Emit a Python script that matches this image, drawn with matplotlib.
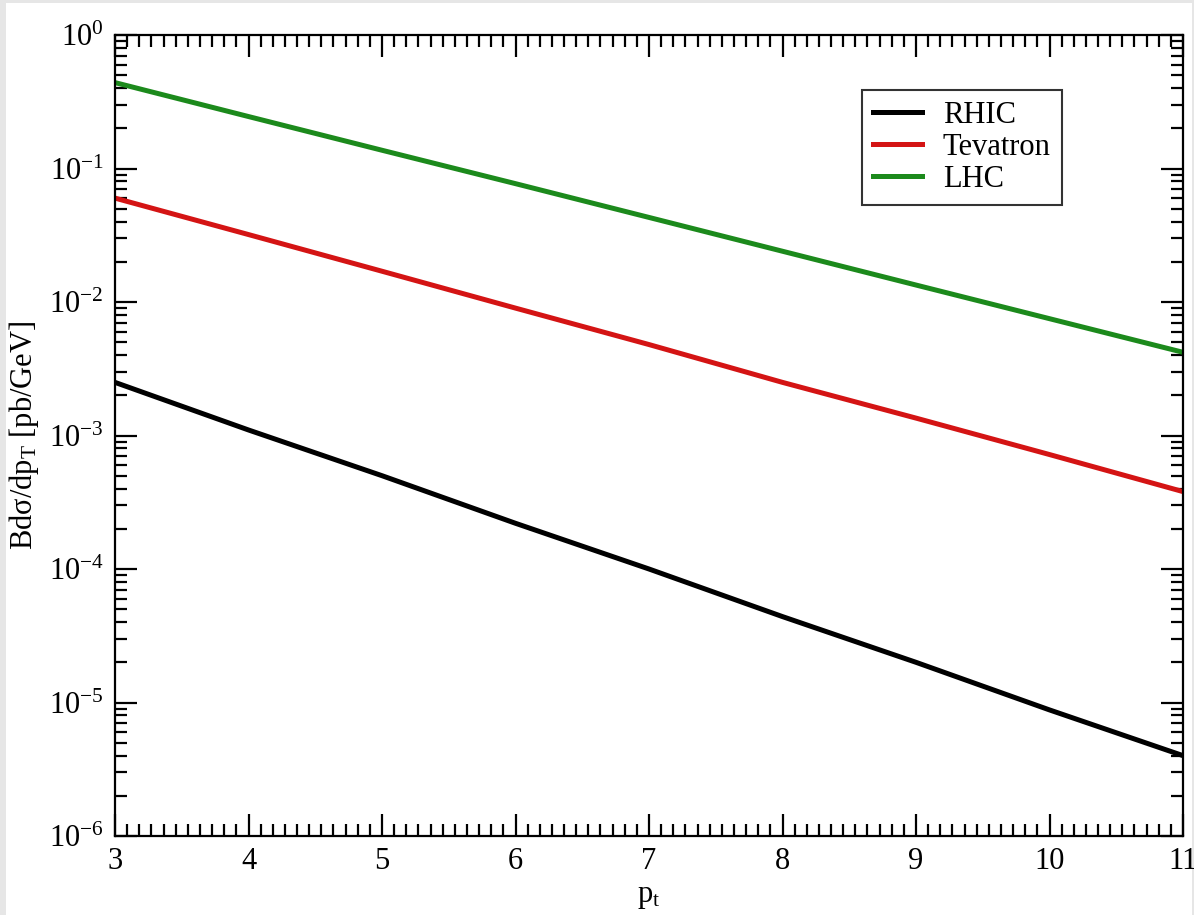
import matplotlib
matplotlib.use("Agg")
import matplotlib.pyplot as plt
import numpy as np
from matplotlib.ticker import LogLocator, AutoMinorLocator, NullFormatter
from matplotlib.patches import Rectangle

plt.rcParams['font.family'] = ['Liberation Serif', 'DejaVu Serif']
plt.rcParams['mathtext.fontset'] = 'custom'
plt.rcParams['mathtext.rm'] = 'Liberation Serif'
plt.rcParams['mathtext.it'] = 'Liberation Serif:italic'
plt.rcParams['axes.unicode_minus'] = False

# values
pt = [3, 4, 5, 6, 7, 8, 9, 10, 11]
rhic = [2.5e-3, 1.1e-3, 5.0e-4, 2.2e-4, 1.0e-4, 4.4e-5, 2.0e-5, 8.8e-6, 4.0e-6]
tevatron = [0.060, 0.032, 0.017, 0.0090, 0.0048, 0.0025, 0.00135, 0.00072, 0.00038]
lhc = [0.44, 0.245, 0.137, 0.077, 0.043, 0.024, 0.0134, 0.0075, 0.0042]

fig = plt.figure(figsize=(11.94, 9.15), dpi=100)
fig.patch.set_facecolor('#e6e6e6')
fig.patches.append(Rectangle((6/1194, 0), 1 - 8/1194, 1 - 3/915,
                             transform=fig.transFigure, facecolor='white',
                             edgecolor='none', zorder=-10))

ax = fig.add_axes([115/1194, 1 - 836/915, 1068/1194, 801/915])
ax.set_facecolor('white')

ax.plot(pt, rhic, color='black', lw=3.6, label='RHIC')
ax.plot(pt, tevatron, color='#d41414', lw=3.6, label='Tevatron')
ax.plot(pt, lhc, color='#1c8a1c', lw=3.6, label='LHC')

ax.set_yscale('log')
ax.set_xlim(3, 11)
ax.set_ylim(1e-6, 1)
ax.yaxis.set_major_locator(LogLocator(base=10, numticks=20))
ax.yaxis.set_minor_locator(LogLocator(base=10, subs=np.arange(2, 10), numticks=20))
ax.yaxis.set_minor_formatter(NullFormatter())
ax.xaxis.set_minor_locator(AutoMinorLocator(11))

ax.tick_params(which='both', direction='in', top=True, right=True,
               width=1.6, labelsize=22, colors='black')
ax.tick_params(which='major', length=16)
ax.tick_params(axis='x', which='major', pad=8)
ax.tick_params(axis='y', which='major', pad=8)
ax.tick_params(which='minor', length=8.5)
for s in ax.spines.values():
    s.set_linewidth(1.6)

ax.set_xlabel(r'p$_\mathrm{t}$', fontsize=22, labelpad=4)
ax.set_ylabel(r'Bdσ/dp$_\mathrm{T}$ [pb/GeV]', fontsize=22, labelpad=6)

leg = ax.legend(loc='upper left', bbox_to_anchor=(0.6994, 0.931),
                borderaxespad=0, fontsize=22, fancybox=False, frameon=True,
                edgecolor='black', handlelength=1.6, handletextpad=0.7,
                borderpad=0.35, labelspacing=0.1)
leg.get_frame().set_linewidth(1.5)

fig.savefig('out.png', dpi=100, facecolor=fig.get_facecolor())
